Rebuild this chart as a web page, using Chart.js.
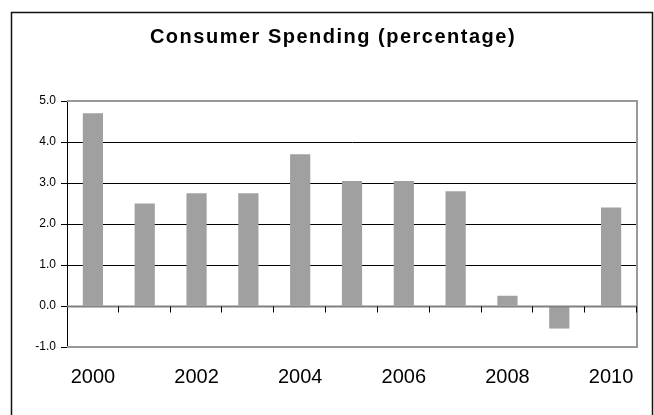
<!DOCTYPE html>
<html>
<head>
<meta charset="utf-8">
<script src="https://cdn.jsdelivr.net/npm/chart.js@4/dist/chart.umd.min.js"></script>
<style>
  html, body { margin: 0; padding: 0; background: #ffffff; }
  #wrap { width: 654px; height: 415px; position: relative; }
</style>
</head>
<body>
<div id="wrap"><canvas id="c" width="654" height="415"></canvas></div>
<script>
// Annual change in consumer spending, percent
const titleText = 'Consumer Spending (percentage)';
const years = ['2000', '2001', '2002', '2003', '2004', '2005', '2006', '2007', '2008', '2009', '2010'];
const spending = [4.7, 2.5, 2.75, 2.75, 3.7, 3.05, 3.05, 2.8, 0.25, -0.55, 2.4];
const yMin = -1;
const yMax = 5;
const yStep = 1;

const FONT = 'Arial, "Liberation Sans", sans-serif';

// Outer frame, title and the gray plot-area border
const framePlugin = {
  id: 'frame',
  beforeDraw(chart) {
    const ctx = chart.ctx;
    ctx.save();
    ctx.fillStyle = '#ffffff';
    ctx.fillRect(0, 0, chart.width, chart.height);
    ctx.strokeStyle = '#111111';
    ctx.lineWidth = 1.5;
    ctx.strokeRect(11.5, 12.5, 641, 420);
    // title
    ctx.fillStyle = '#000000';
    ctx.font = 'bold 20px ' + FONT;
    ctx.textAlign = 'center';
    ctx.textBaseline = 'alphabetic';
    try { ctx.letterSpacing = '1.5px'; } catch (e) {}
    ctx.fillText(titleText, 333, 43);
    try { ctx.letterSpacing = '0px'; } catch (e) {}
    ctx.restore();
  },
  beforeDatasetsDraw(chart) {
    const ctx = chart.ctx;
    const a = chart.chartArea;
    ctx.save();
    ctx.strokeStyle = '#999999';
    ctx.lineWidth = 2;
    ctx.beginPath();
    ctx.moveTo(a.left, a.top);
    ctx.lineTo(a.right, a.top);
    ctx.lineTo(a.right, a.bottom);
    ctx.lineTo(a.left, a.bottom);
    ctx.stroke();
    ctx.restore();
  },
  afterDatasetsDraw(chart) {
    // category axis crossing at zero, with tick marks between categories
    const ctx = chart.ctx;
    const a = chart.chartArea;
    const xs = chart.scales.x;
    const ys = chart.scales.y;
    const y0 = Math.round(ys.getPixelForValue(0)) + 0.5;
    ctx.save();
    ctx.strokeStyle = '#808080';
    ctx.lineWidth = 2;
    ctx.beginPath();
    ctx.moveTo(a.left, y0);
    ctx.lineTo(a.right, y0);
    ctx.stroke();
    ctx.strokeStyle = '#000000';
    ctx.lineWidth = 1;
    const half = (xs.getPixelForValue(1) - xs.getPixelForValue(0)) / 2;
    ctx.beginPath();
    for (let i = 0; i < years.length; i++) {
      const xb = Math.round(xs.getPixelForValue(i) + half) - 0.5;
      ctx.moveTo(xb, y0);
      ctx.lineTo(xb, y0 + 6);
    }
    ctx.stroke();
    ctx.restore();
  }
};

new Chart(document.getElementById('c'), {
  type: 'bar',
  data: {
    labels: years,
    datasets: [{
      data: spending,
      backgroundColor: '#a0a0a0',
      borderWidth: 0,
      barPercentage: 0.39,
      categoryPercentage: 1.0
    }]
  },
  options: {
    responsive: false,
    animation: false,
    devicePixelRatio: 1,
    layout: { padding: { left: 12, top: 101, right: 17, bottom: 0 } },
    plugins: {
      legend: { display: false },
      title: { display: false },
      tooltip: { enabled: false }
    },
    scales: {
      x: {
        type: 'category',
        offset: true,
        grid: { display: false, drawTicks: false },
        border: { display: false },
        ticks: {
          autoSkip: false,
          maxRotation: 0,
          minRotation: 0,
          padding: 18,
          color: '#000000',
          font: { family: FONT, size: 20 },
          callback: (v, i) => (i % 2 === 0 ? years[i] : '')
        },
        afterFit(scale) { scale.height = 68; }
      },
      y: {
        min: yMin,
        max: yMax,
        grid: {
          color: (c) => {
            const v = c.tick ? c.tick.value : null;
            return (v === yMin || v === yMax || v === 0) ? 'rgba(0,0,0,0)' : '#000000';
          },
          lineWidth: 1,
          drawTicks: true,
          tickLength: 6,
          tickColor: '#000000'
        },
        border: { display: true, color: '#000000', width: 1 },
        ticks: {
          stepSize: yStep,
          padding: 5,
          color: '#000000',
          font: { family: FONT, size: 12 },
          callback: (v) => Number(v).toFixed(1)
        },
        afterFit(scale) { scale.width = 55; }
      }
    }
  },
  plugins: [framePlugin]
});
</script>
</body>
</html>
